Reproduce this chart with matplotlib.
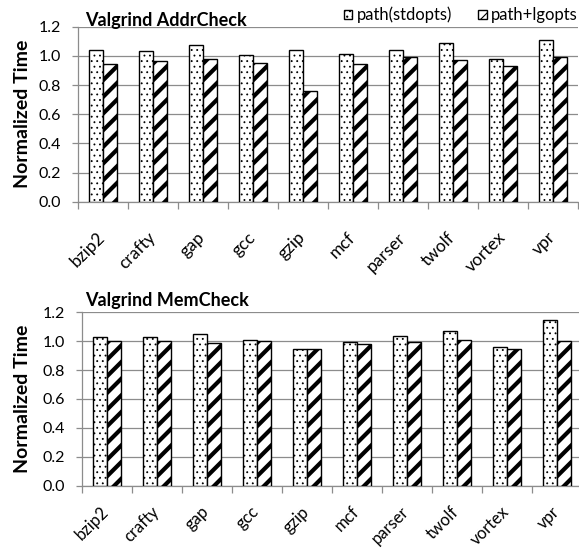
import matplotlib
matplotlib.use("Agg")
import matplotlib.pyplot as plt
import matplotlib.transforms as mtransforms
import numpy as np

benchmarks = ["bzip2", "crafty", "gap", "gcc", "gzip", "mcf", "parser", "twolf", "vortex", "vpr"]
series_names = ["path(stdopts)", "path+lgopts"]
addr_std = [1.04, 1.035, 1.072, 1.008, 1.042, 1.015, 1.042, 1.09, 0.978, 1.111]
addr_lg = [0.944, 0.967, 0.978, 0.949, 0.759, 0.946, 0.994, 0.969, 0.930, 0.994]
mem_std = [1.030, 1.030, 1.053, 1.010, 0.949, 0.996, 1.035, 1.069, 0.958, 1.146]
mem_lg = [1.003, 1.003, 0.987, 1.003, 0.944, 0.978, 0.996, 1.007, 0.949, 1.003]
yticks = [0.0, 0.2, 0.4, 0.6, 0.8, 1.0, 1.2]

plt.rcParams['font.family'] = ['Lato', 'DejaVu Sans']
plt.rcParams['hatch.linewidth'] = 0.8

W, H = 579, 552
fig = plt.figure(figsize=(W / 100, H / 100), dpi=100)

def px_axes(left, right, top, bottom):
    return fig.add_axes([left / W, 1 - bottom / H, (right - left) / W, (bottom - top) / H])

ax1 = px_axes(77.7, 577.7, 26.7, 201.7)
ax2 = px_axes(81.7, 581.7, 312.3, 485.7)

GRAY = "#8c8c8c"

def draw(ax, std, lg, title, title_dy_px, ylab_x_px, xpad, xfs):
    x = np.arange(len(benchmarks))
    w = 0.28
    b1 = ax.bar(x - w/2, std, w, color="white", edgecolor="black", linewidth=1.0,
                hatch="...", label=series_names[0], zorder=3)
    b2 = ax.bar(x + w/2, lg, w, color="white", edgecolor="black", linewidth=1.0,
                hatch="//", label=series_names[1], zorder=3)
    for r in b2:
        try:
            r.set_hatch_linewidth(3.0)
        except Exception:
            pass
    for r in b1:
        try:
            r.set_hatch_linewidth(0.6)
        except Exception:
            pass
    ax.set_xlim(-0.5, len(benchmarks) - 0.5)
    ax.set_ylim(0, 1.2)
    ax.set_yticks(yticks)
    ax.set_yticklabels([f"{v:.1f}" for v in yticks], fontsize=11.5)
    ax.yaxis.grid(True, color=GRAY, linewidth=0.9, zorder=0)
    ax.set_axisbelow(True)
    ax.set_xticks(x)
    ax.set_xticklabels(benchmarks, rotation=45, ha="right", va="center",
                       rotation_mode="anchor", fontsize=xfs)
    off = mtransforms.ScaledTranslation(5 / 100, 0, fig.dpi_scale_trans)
    for lab in ax.get_xticklabels():
        lab.set_transform(lab.get_transform() + off)
    ax.set_xticks(np.arange(len(benchmarks) + 1) - 0.5, minor=True)
    ax.tick_params(axis="x", which="major", length=0, pad=xpad)
    ax.tick_params(axis="x", which="minor", length=5, color=GRAY, width=0.9)
    ax.tick_params(axis="y", length=4.3, color=GRAY, width=0.9, pad=8)
    for s in ["top", "right"]:
        ax.spines[s].set_visible(False)
    for s in ["left", "bottom"]:
        ax.spines[s].set_color(GRAY)
        ax.spines[s].set_linewidth(0.9)
    ax.set_ylabel("Normalized Time", fontsize=14, fontweight="bold")
    bb = ax.get_position()
    ax_w_px = bb.width * W
    ax.yaxis.set_label_coords((ylab_x_px - bb.x0 * W) / ax_w_px, 0.5)
    ax_h_px = bb.height * H
    ax.text((85 - bb.x0 * W) / ax_w_px, 1.0 + title_dy_px / ax_h_px, title,
            transform=ax.transAxes, fontsize=13, fontweight="bold",
            ha="left", va="baseline")
    return b1, b2

draw(ax1, addr_std, addr_lg, "Valgrind AddrCheck", 0.7, 31, 24, 12.5)
draw(ax2, mem_std, mem_lg, "Valgrind MemCheck", 6.3, 31, 17, 12.0)

ax1.legend(loc="center right", bbox_to_anchor=(1.0, 1 + 11.7 / 175), ncol=2, frameon=False,
           fontsize=12, handlelength=0.5, handleheight=0.5, handletextpad=0.25,
           columnspacing=1.6, borderpad=0, borderaxespad=0)

fig.savefig("out.png", dpi=100)
